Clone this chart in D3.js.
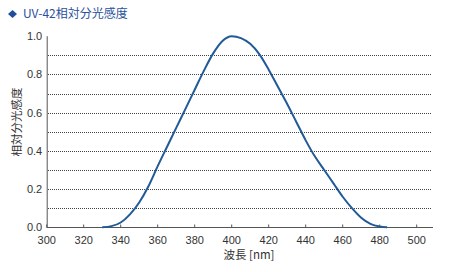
<!DOCTYPE html>
<html><head><meta charset="utf-8">
<script src="https://cdn.jsdelivr.net/npm/d3@7"></script>
<style>body{margin:0;background:#fff;}svg{display:block;font-family:"Liberation Sans",Arial,sans-serif;}</style>
</head><body><div id="chart"></div>
<script>
const wavelengths = [330,335,340,345,350,355,360,365,370,375,380,385,390,395,400,405,410,415,420,425,430,435,440,445,450,455,460,465,470,475,480,484];
const sensitivity = [0,0.006,0.025,0.068,0.13,0.215,0.32,0.42,0.52,0.62,0.72,0.82,0.91,0.975,1.0,0.99,0.96,0.905,0.825,0.735,0.645,0.55,0.455,0.37,0.30,0.23,0.16,0.10,0.05,0.018,0.004,0];
const xTicks = [300,320,340,360,380,400,420,440,460,480,500];
const yTicks = [0,0.2,0.4,0.6,0.8,1.0];
const gridVals = [0.1,0.2,0.3,0.4,0.5,0.6,0.7,0.8,0.9];
const title = "UV-42相対分光感度";
const xLabel = "波長 [nm]";
const yLabel = "相対分光感度";

const W=453,H=272;
const svg=d3.select("#chart").append("svg").attr("width",W).attr("height",H);
const x=d3.scaleLinear().domain([300,500]).range([46.7,416.7]);
const y=d3.scaleLinear().domain([0,1]).range([227.3,36.2]);
const xEnd=433;

// title
svg.append("path").attr("d","M12.5,10 L17,14 L12.5,18 L8,14 Z").attr("fill","#1f4f9c");
svg.append("text").attr("x",23).attr("y",18).attr("font-size",12).attr("fill","#2a4f9c")
  .attr("font-family","'Noto Sans CJK JP','Liberation Sans',sans-serif").text(title);

// grid
svg.append("g").selectAll("line").data(gridVals).join("line")
  .attr("x1",48).attr("x2",432).attr("y1",d=>Math.round(y(d))+0.5).attr("y2",d=>Math.round(y(d))+0.5)
  .attr("stroke","#444").attr("stroke-width",1).attr("stroke-dasharray","1,1");

// axes
const gx=svg.append("g").attr("transform","translate(0,227.5)");
gx.append("line").attr("x1",46.7).attr("x2",xEnd).attr("stroke","#555");
gx.selectAll("line.t").data(xTicks).join("line").attr("class","t")
  .attr("x1",d=>x(d)).attr("x2",d=>x(d)).attr("y1",0).attr("y2",-3).attr("stroke","#555");
gx.selectAll("text").data(xTicks).join("text").attr("x",d=>x(d)).attr("y",16)
  .attr("text-anchor","middle").attr("font-size",11).attr("fill","#333").text(d=>d);

const gy=svg.append("g").attr("transform","translate(47.2,0)");
gy.append("line").attr("y1",y(1)).attr("y2",227.5).attr("stroke","#555");
gy.selectAll("text").data(yTicks).join("text").attr("x",-5).attr("y",d=>y(d)+4)
  .attr("text-anchor","end").attr("font-size",11).attr("fill","#333").text(d=>d.toFixed(1));

// labels
svg.append("text").attr("x",249).attr("y",259).attr("text-anchor","middle").attr("font-size",11.5)
  .attr("fill","#333").attr("font-family","'Noto Sans CJK JP','Liberation Sans',sans-serif").text(xLabel);
svg.append("text").attr("transform","translate(21,122) rotate(-90)").attr("text-anchor","middle")
  .attr("font-size",11.5).attr("fill","#333").attr("font-family","'Noto Sans CJK JP',sans-serif").text(yLabel);

// curve
const data=wavelengths.map((w,i)=>({w,v:sensitivity[i]}));
svg.append("path").datum(data).attr("fill","none").attr("stroke","#215a98").attr("stroke-width",2)
  .attr("d",d3.line().x(d=>x(d.w)).y(d=>y(d.v)).curve(d3.curveMonotoneX));
</script></body></html>
